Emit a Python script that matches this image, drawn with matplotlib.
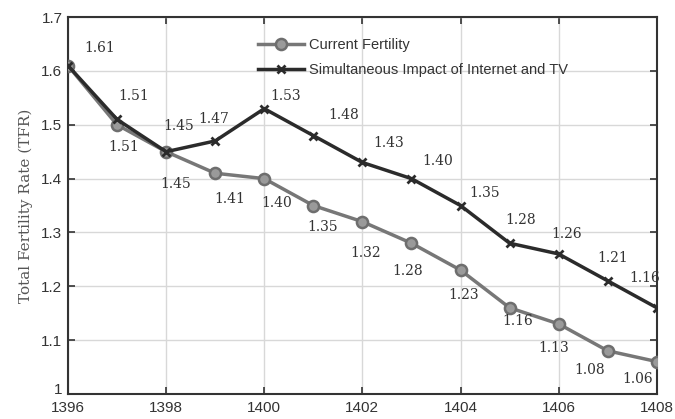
import matplotlib.pyplot as plt
import matplotlib.transforms as mtransforms

years = [1396, 1397, 1398, 1399, 1400, 1401, 1402, 1403, 1404, 1405, 1406, 1407, 1408]
current = [1.61, 1.50, 1.45, 1.41, 1.40, 1.35, 1.32, 1.28, 1.23, 1.16, 1.13, 1.08, 1.06]
net_tv = [1.61, 1.51, 1.45, 1.47, 1.53, 1.48, 1.43, 1.40, 1.35, 1.28, 1.26, 1.21, 1.16]
current_text = ['', '1.51', '1.45', '1.41', '1.40', '1.35', '1.32', '1.28', '1.23', '1.16', '1.13', '1.08', '1.06']
net_tv_text = ['1.61', '1.51', '1.45', '1.47', '1.53', '1.48', '1.43', '1.40', '1.35', '1.28', '1.26', '1.21', '1.16']

# label offsets in pixels (dx, dy), dy upward
cur_off = [(0, 0), (7, -22), (10, -32), (15, -26), (12, -24), (9, -21), (3, -31),
           (-4, -28), (3, -25), (8, -13), (-5, -24), (-18, -19), (-19, -17)]
net_off = [(32, 18), (17, 23), (13, 26), (-1, 22), (21, 13), (30, 21), (26, 19),
           (26, 18), (24, 13), (11, 23), (8, 20), (5, 23), (-12, 30)]

fig = plt.figure(figsize=(6.75, 4.19), dpi=100)
ax = fig.add_axes([0.1007, 0.06, 0.8723, 0.899])

ax.plot(years, current, color='#777777', lw=2.5, marker='o', ms=8,
        mfc='#9a9a9a', mec='#6e6e6e', mew=1.8, label='Current Fertility', zorder=3)
ax.plot(years, net_tv, color='#2b2b2b', lw=2.5, marker='x', ms=6, mew=2,
        label='Simultaneous Impact of Internet and TV', zorder=4)

for x, y, t, o in zip(years, current, current_text, cur_off):
    if t:
        ax.annotate(t, (x, y), xytext=o, textcoords='offset pixels', ha='center', va='center',
                    fontsize=10, family='DejaVu Serif', color='#333333')
for x, y, t, o in zip(years, net_tv, net_tv_text, net_off):
    ax.annotate(t, (x, y), xytext=o, textcoords='offset pixels', ha='center', va='center',
                fontsize=10, family='DejaVu Serif', color='#333333')

ax.set_xlim(1396, 1408)
ax.set_ylim(1, 1.7)
ax.set_xticks(range(1396, 1409, 2))
ax.set_yticks([1, 1.1, 1.2, 1.3, 1.4, 1.5, 1.6, 1.7])
ax.set_yticklabels(['1', '1.1', '1.2', '1.3', '1.4', '1.5', '1.6', '1.7'])
ax.grid(True, color='#d8d8d8', lw=1)
ax.set_axisbelow(True)
ax.tick_params(direction='in', top=True, right=True, length=5, width=1.2,
               labelsize=11, colors='#333333', pad=4)
ax.tick_params(axis='x', pad=5)
for lab in ax.get_xticklabels() + ax.get_yticklabels():
    lab.set_family('Liberation Sans')
for s in ax.spines.values():
    s.set_linewidth(1.5)
    s.set_color('#333333')

# nudge the bottom "1" up a little so it clears "1396"
lab0 = ax.get_yticklabels()[0]
lab0.set_transform(lab0.get_transform() + mtransforms.ScaledTranslation(0, 4 / 72, fig.dpi_scale_trans))

ax.set_ylabel('Total Fertility Rate (TFR)', family='DejaVu Serif', fontsize=11, color='#555555', labelpad=6)

leg = ax.legend(loc='upper left', bbox_to_anchor=(0.30, 0.98), frameon=False,
                prop={'family': 'Liberation Sans', 'size': 10.5}, handlelength=3.2,
                handletextpad=0.3, labelspacing=0.75)
for t in leg.get_texts():
    t.set_color('#333333')

fig.savefig('out.png', dpi=100)
